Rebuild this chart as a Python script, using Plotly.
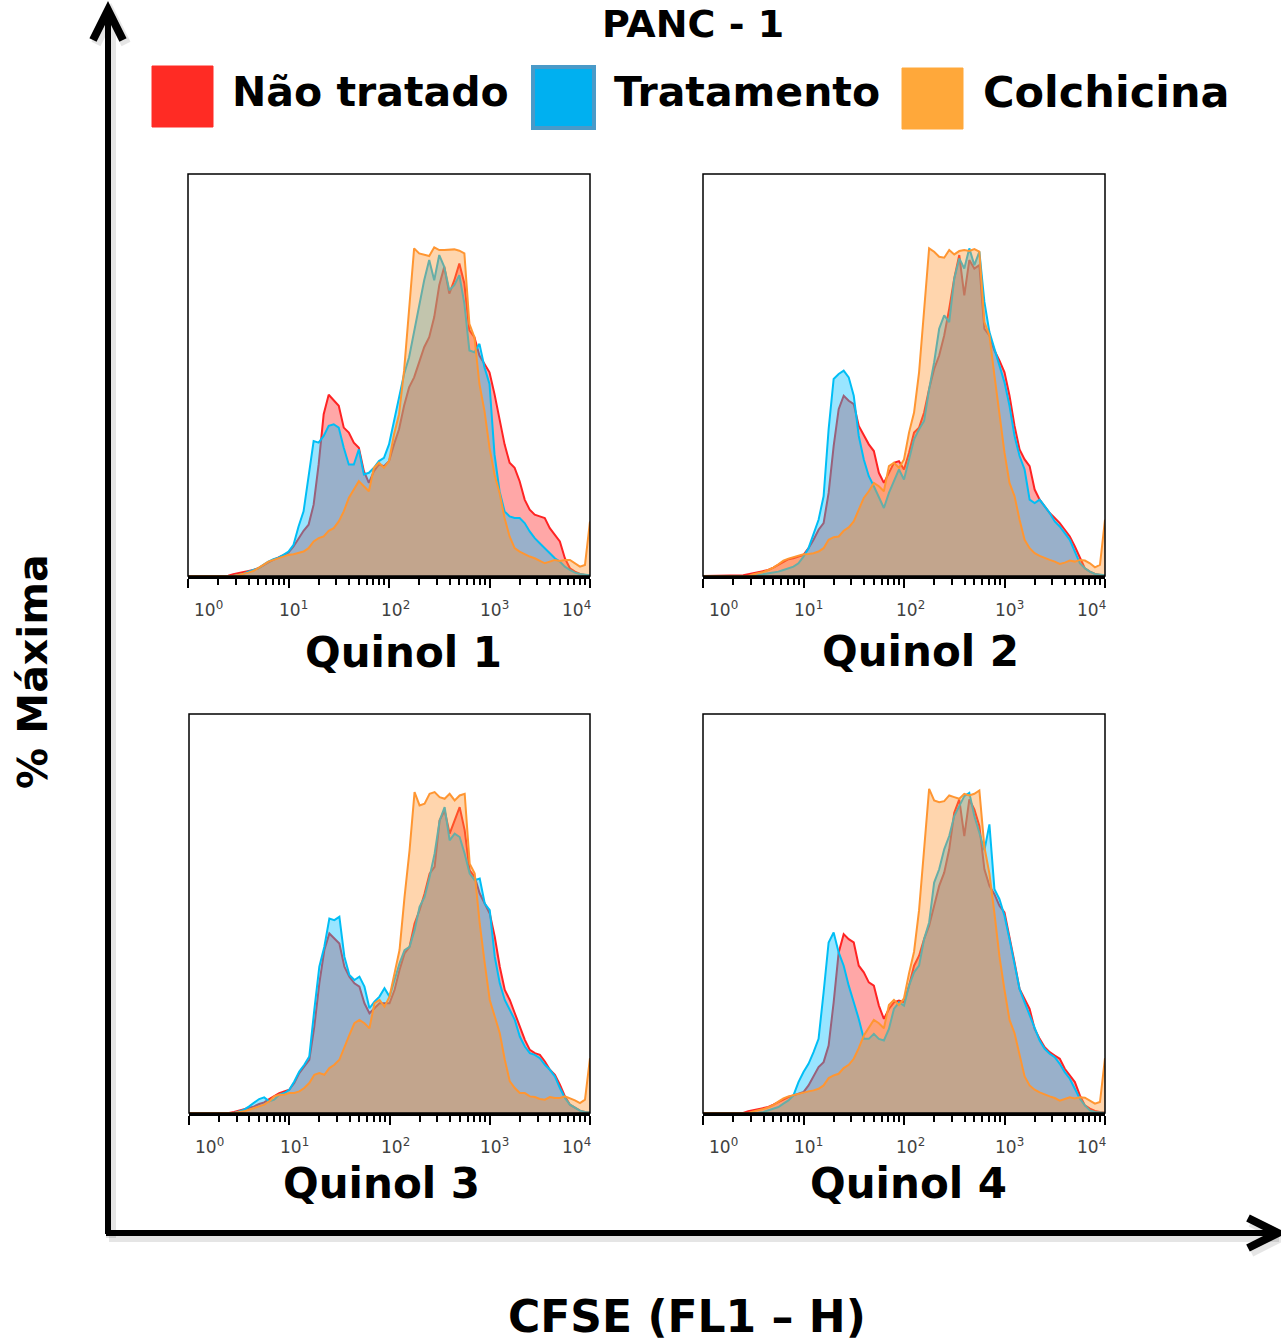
import plotly.graph_objects as go

# ---------------------------------------------------------------------------
# CFSE histograms (PANC-1): % of maximum vs log10 fluorescence channel
# ---------------------------------------------------------------------------
LOG_CHANNEL = [
    0.00, 0.05, 0.10, 0.15, 0.20, 0.25, 0.30, 0.35, 0.40, 0.45,
    0.50, 0.55, 0.60, 0.65, 0.70, 0.75, 0.80, 0.85, 0.90, 0.95,
    1.00, 1.05, 1.10, 1.15, 1.20, 1.25, 1.30, 1.35, 1.40, 1.45,
    1.50, 1.55, 1.60, 1.65, 1.70, 1.75, 1.80, 1.85, 1.90, 1.95,
    2.00, 2.05, 2.10, 2.15, 2.20, 2.25, 2.30, 2.35, 2.40, 2.45,
    2.50, 2.55, 2.60, 2.65, 2.70, 2.75, 2.80, 2.85, 2.90, 2.95,
    3.00, 3.05, 3.10, 3.15, 3.20, 3.25, 3.30, 3.35, 3.40, 3.45,
    3.50, 3.55, 3.60, 3.65, 3.70, 3.75, 3.80, 3.85, 3.90, 3.95,
    4.00,
]

PANELS = ["Quinol 1", "Quinol 2", "Quinol 3", "Quinol 4"]
SERIES = ["Não tratado", "Tratamento", "Colchicina"]

# Quinol 1
q1_nao_tratado = [
    0, 0, 0, 0, 0, 0, 0, 0, 0.1, 0.5,
    0.8, 1.0, 1.5, 1.8, 2.3, 3.3, 4.1, 4.8, 5.5, 6.1,
    7.0, 8.8, 11.3, 13.5, 15.3, 21.3, 33.3, 48.3, 54.1, 52.3,
    50.8, 44.3, 42.8, 39.8, 38.3, 31.3, 27.8, 31.3, 33.3, 32.8,
    34.3, 39.3, 43.8, 50.8, 56.3, 59.3, 63.8, 68.3, 71.3, 77.3,
    86.8, 92.3, 84.3, 88.3, 93.3, 87.3, 73.3, 71.3, 65.8, 63.3,
    60.8, 54.3, 46.3, 39.3, 33.8, 32.3, 28.3, 22.8, 19.8, 18.3,
    17.8, 17.3, 14.3, 12.3, 10.3, 5.3, 2.3, 1.3, 0.6, 0.3,
    0.2,
]
q1_tratamento = [
    0, 0, 0, 0, 0, 0, 0, 0, 0, 0,
    0.3, 0.6, 1.3, 1.8, 2.3, 3.3, 4.3, 5.0, 5.5, 6.3,
    7.3, 9.3, 14.8, 19.3, 29.3, 40.3, 39.8, 41.8, 44.8, 45.3,
    44.3, 38.3, 33.3, 33.3, 37.8, 30.3, 30.8, 32.3, 34.3, 35.3,
    39.3, 46.3, 52.3, 60.3, 65.3, 73.3, 81.3, 88.3, 94.3, 88.3,
    95.8, 92.3, 85.3, 86.8, 89.8, 81.3, 67.3, 66.8, 69.3, 62.3,
    57.3, 36.3, 25.3, 19.3, 17.8, 17.3, 17.3, 15.8, 13.3, 11.3,
    9.8, 8.3, 6.8, 5.3, 4.3, 2.8, 1.8, 1.0, 0.6, 0.3,
    0.2,
]
q1_colchicina = [
    0, 0, 0, 0, 0, 0, 0, 0, 0, 0,
    0.3, 0.6, 1.0, 1.5, 2.3, 3.3, 4.3, 4.8, 5.3, 5.8,
    6.3, 6.5, 6.8, 7.3, 8.3, 10.3, 11.3, 11.8, 13.5, 14.3,
    16.3, 19.3, 23.3, 25.8, 28.3, 26.8, 25.3, 32.3, 33.8, 32.3,
    34.3, 42.3, 48.3, 61.3, 79.0, 97.8, 96.3, 95.8, 95.5, 98.1,
    97.3, 97.3, 97.5, 97.5, 97.1, 96.3, 75.3, 71.3, 57.3, 49.3,
    38.3, 30.3, 24.8, 17.3, 11.8, 8.3, 7.3, 6.5, 5.8, 5.3,
    4.5, 3.8, 4.3, 4.8, 4.5, 4.8, 4.8, 3.8, 2.8, 3.3,
    16.3,
]

# Quinol 2
q2_nao_tratado = [
    0, 0, 0, 0, 0, 0, 0, 0, 0.2, 0.5,
    0.8, 1.1, 1.5, 1.8, 2.5, 3.3, 4.3, 5.0, 5.3, 5.8,
    6.3, 8.3, 10.8, 13.8, 15.8, 24.8, 38.8, 49.8, 53.8, 52.3,
    51.3, 44.8, 41.8, 39.3, 37.3, 30.8, 27.8, 30.8, 33.8, 34.3,
    31.8, 36.8, 42.8, 44.3, 48.8, 55.8, 61.8, 65.8, 71.8, 79.8,
    88.8, 95.8, 83.8, 94.3, 91.8, 92.8, 73.8, 71.8, 67.3, 64.3,
    60.8, 53.8, 44.8, 37.8, 34.8, 32.8, 25.8, 22.8, 20.8, 18.8,
    17.3, 15.8, 13.8, 11.8, 8.8, 5.3, 2.3, 1.3, 0.6, 0.3,
    0.2,
]
q2_tratamento = [
    0, 0, 0, 0, 0, 0, 0, 0, 0, 0,
    0, 0.3, 0.5, 0.8, 1.0, 1.3, 1.8, 2.3, 2.8, 3.8,
    5.8, 8.3, 12.8, 16.8, 23.8, 43.8, 58.8, 60.3, 61.3, 59.3,
    53.8, 41.8, 34.8, 29.8, 26.8, 23.3, 20.3, 24.8, 28.3, 31.8,
    28.8, 34.8, 40.8, 43.8, 46.3, 55.8, 63.8, 73.8, 77.8, 75.8,
    88.8, 94.8, 91.8, 97.8, 92.8, 96.8, 81.8, 72.8, 67.8, 62.8,
    57.8, 50.8, 41.8, 35.8, 31.8, 22.8, 21.8, 22.8, 20.8, 18.8,
    16.3, 14.8, 12.8, 10.8, 7.3, 3.8, 2.3, 1.3, 0.6, 0.3,
    0.2,
]
q2_colchicina = [
    0, 0, 0, 0, 0, 0, 0, 0, 0, 0,
    0.5, 0.8, 1.2, 1.8, 2.5, 3.5, 4.6, 5.2, 5.6, 6.0,
    6.5, 6.6, 6.8, 7.3, 8.3, 10.8, 11.6, 11.8, 13.5, 14.5,
    16.3, 19.8, 23.3, 25.3, 27.8, 26.8, 25.3, 32.8, 33.8, 32.3,
    34.8, 42.8, 48.8, 60.8, 78.8, 97.8, 96.8, 95.3, 95.0, 97.3,
    96.0, 97.0, 97.3, 97.0, 97.6, 96.8, 75.8, 71.8, 59.8, 47.8,
    36.8, 27.8, 23.8, 16.8, 10.8, 8.3, 6.8, 6.0, 5.3, 4.8,
    4.3, 3.6, 4.0, 4.6, 4.3, 4.8, 4.6, 3.8, 2.6, 3.3,
    16.8,
]

# Quinol 3
q3_nao_tratado = [
    0, 0, 0, 0, 0, 0, 0, 0, 0, 0.3,
    0.7, 1.0, 1.5, 2.0, 2.7, 3.2, 4.2, 5.0, 6.0, 6.5,
    7.0, 9.0, 12.0, 14.0, 16.0, 26.0, 39.0, 49.0, 54.0, 52.5,
    51.0, 44.0, 41.0, 39.0, 38.0, 33.0, 30.0, 31.5, 33.0, 33.0,
    33.0, 37.0, 43.0, 48.0, 50.0, 57.0, 61.0, 66.0, 72.0, 74.0,
    88.0, 91.0, 84.0, 88.0, 92.0, 85.0, 73.0, 71.0, 66.0, 63.0,
    60.0, 53.0, 44.0, 37.0, 34.0, 30.0, 26.0, 22.0, 19.0, 18.0,
    17.5, 15.5, 13.0, 11.5, 8.5, 5.0, 2.5, 1.5, 0.7, 0.3,
    0.2,
]
q3_tratamento = [
    0, 0, 0, 0, 0, 0, 0, 0, 0, 0,
    0.5, 1.0, 2.0, 3.0, 4.2, 4.7, 3.5, 4.0, 5.5, 6.0,
    7.0, 9.5, 12.5, 14.5, 17.0, 31.0, 44.0, 50.0, 58.5, 58.0,
    59.0, 47.0, 41.5, 40.0, 41.0, 38.0, 31.5, 33.5, 35.0, 37.5,
    35.0, 40.0, 45.0, 49.0, 50.0, 55.0, 62.0, 65.0, 71.0, 78.0,
    88.0, 92.0, 82.0, 84.0, 83.0, 78.0, 72.0, 70.0, 70.5, 63.0,
    61.0, 47.0, 39.0, 34.0, 31.0, 28.0, 23.0, 20.0, 18.0, 17.5,
    16.5, 14.5, 13.0, 11.0, 7.5, 4.5, 2.5, 1.5, 0.7, 0.3,
    0.2,
]
q3_colchicina = [
    0, 0, 0, 0, 0, 0, 0, 0, 0, 0,
    0.3, 0.5, 1.0, 1.5, 2.0, 2.5, 3.5, 5.0, 5.5, 5.5,
    6.0, 6.0, 6.5, 7.5, 9.0, 11.5, 12.0, 11.5, 13.5, 14.5,
    16.0, 20.0, 23.5, 27.0, 28.0, 27.0, 25.5, 33.0, 34.0, 32.0,
    35.0, 42.0, 49.0, 65.0, 79.0, 96.5, 92.5, 93.0, 96.0, 96.5,
    95.0, 94.5, 96.0, 94.0, 95.5, 96.0, 75.0, 72.0, 57.0, 45.0,
    34.0, 29.0, 24.0, 16.0, 9.5, 7.5, 6.0, 6.0, 5.0, 4.8,
    4.2, 4.0, 4.8, 4.5, 4.5, 5.0, 4.5, 3.8, 3.0, 4.0,
    16.5,
]

# Quinol 4
q4_nao_tratado = [
    0, 0, 0, 0, 0, 0, 0, 0, 0, 0.5,
    0.8, 1.0, 1.5, 1.8, 2.5, 3.3, 4.1, 4.8, 5.3, 5.8,
    6.3, 8.3, 11.3, 13.8, 15.3, 20.3, 33.3, 48.3, 53.8, 52.3,
    51.3, 44.3, 42.3, 39.3, 38.3, 32.3, 28.3, 31.3, 33.3, 33.8,
    33.3, 38.3, 44.3, 47.3, 52.3, 56.3, 62.3, 68.3, 72.3, 79.3,
    90.3, 94.3, 83.3, 94.3, 91.3, 86.3, 73.3, 68.3, 65.8, 62.3,
    60.3, 53.3, 45.3, 37.3, 34.3, 31.3, 25.3, 22.3, 19.8, 18.3,
    17.3, 16.3, 13.3, 11.3, 9.3, 5.3, 2.3, 1.3, 0.6, 0.3,
    0.2,
]
q4_tratamento = [
    0, 0, 0, 0, 0, 0, 0, 0, 0, 0,
    0, 0.1, 0.3, 0.8, 1.3, 1.8, 2.8, 3.8, 5.3, 9.3,
    12.3, 14.8, 18.3, 22.3, 36.3, 51.3, 54.3, 48.3, 44.3, 38.3,
    33.3, 28.3, 22.3, 22.3, 23.8, 22.3, 21.8, 25.3, 31.3, 33.3,
    32.3, 38.3, 42.3, 44.3, 52.3, 57.3, 69.3, 73.3, 79.3, 83.3,
    89.3, 92.3, 95.3, 96.3, 89.3, 84.3, 79.0, 86.8, 67.3, 64.3,
    59.3, 52.3, 44.3, 37.3, 33.3, 29.3, 25.3, 21.8, 19.3, 17.8,
    16.8, 14.8, 12.3, 10.3, 7.3, 4.3, 2.3, 0.8, 0.3, 0.2,
    0.1,
]
q4_colchicina = [
    0, 0, 0, 0, 0, 0, 0, 0, 0, 0,
    0.5, 0.8, 1.2, 1.7, 2.4, 3.4, 4.4, 5.0, 5.4, 5.9,
    6.3, 6.5, 6.8, 7.3, 8.3, 10.5, 11.3, 11.8, 13.5, 14.5,
    16.3, 19.5, 23.3, 25.5, 28.0, 27.0, 25.5, 32.5, 34.0, 32.5,
    34.5, 42.0, 48.5, 61.0, 79.0, 97.5, 94.0, 93.5, 93.8, 95.5,
    95.0, 94.5, 96.0, 95.5, 96.0, 97.0, 80.0, 72.0, 60.0, 47.0,
    37.0, 28.0, 24.0, 17.0, 11.0, 8.3, 7.0, 6.2, 5.5, 5.0,
    4.5, 3.7, 4.2, 4.7, 4.4, 4.7, 4.6, 3.8, 2.8, 3.3,
    16.5,
]

PANEL_DATA = [
    [q1_nao_tratado, q1_tratamento, q1_colchicina],
    [q2_nao_tratado, q2_tratamento, q2_colchicina],
    [q3_nao_tratado, q3_tratamento, q3_colchicina],
    [q4_nao_tratado, q4_tratamento, q4_colchicina],
]

MAJOR_TICKS = [1, 10, 100, 1000, 10000]
MINOR_TICKS = [m * d for d in (1, 10, 100, 1000) for m in range(2, 10)]
TICK_TEXT = ["10<sup>0</sup>", "10<sup>1</sup>", "10<sup>2</sup>",
             "10<sup>3</sup>", "10<sup>4</sup>"]

# ---------------------------------------------------------------------------
# styling
# ---------------------------------------------------------------------------
W, H = 1281, 1344
LINE_COLORS = ["rgb(255,35,35)", "rgb(0,190,245)", "rgb(255,150,50)"]
FILL_COLORS = ["rgba(255,35,35,0.40)", "rgba(0,190,255,0.40)",
               "rgba(255,150,50,0.40)"]
LEGEND_FILL = ["#ff2b24", "#00b0f0", "#ffa83a"]
LEGEND_EDGE = ["#ff2b24", "#4a9ac8", "#ffa83a"]
FONT = "DejaVu Sans, Verdana, sans-serif"

# plot boxes in pixels: (left, top, right, bottom)
BOXES = [(188, 174, 590, 576), (703, 174, 1105, 576),
         (189, 714, 590, 1113), (703, 714, 1105, 1113)]
TITLE_POS = [(403, 652), (920, 651), (381, 1183), (908, 1183)]
TICK_LABEL_X = [0.2, 1.05, 2.06, 3.05, 3.87]


def px(x):
    return x / W


def py(y):
    return 1 - y / H


x_vals = [10 ** v for v in LOG_CHANNEL]

fig = go.Figure()
annotations = []
shapes = []

for i, (series_list, box) in enumerate(zip(PANEL_DATA, BOXES), start=1):
    suffix = "" if i == 1 else str(i)
    xa, ya = f"x{suffix}", f"y{suffix}"
    for s, yv in enumerate(series_list):
        fig.add_trace(go.Scatter(
            x=x_vals, y=yv, mode="lines", name=SERIES[s],
            fill="tozeroy", fillcolor=FILL_COLORS[s],
            line=dict(color=LINE_COLORS[s], width=2),
            xaxis=xa, yaxis=ya, showlegend=False, hoverinfo="skip",
        ))
    left, top, right, bottom = box
    fig.layout[f"xaxis{suffix}"] = dict(
        domain=[px(left), px(right)], anchor=ya, type="log", range=[0, 4],
        showgrid=False, zeroline=False, showline=True, linecolor="black",
        linewidth=2.5, ticks="outside", tickvals=MAJOR_TICKS, ticklen=9,
        tickwidth=2.4, tickcolor="black", showticklabels=False,
        minor=dict(tickmode="array", tickvals=MINOR_TICKS, ticks="outside",
                   ticklen=6, tickwidth=1.6, tickcolor="black",
                   showgrid=False),
    )
    fig.layout[f"yaxis{suffix}"] = dict(
        domain=[py(bottom), py(top)], anchor=xa, range=[0, 120],
        visible=False, showgrid=False, zeroline=False,
    )
    # thin frame around each histogram
    shapes.append(dict(type="rect", xref=f"{xa} domain", yref=f"{ya} domain",
                       x0=0, x1=1, y0=0, y1=1,
                       line=dict(color="black", width=1.5), layer="above"))
    for txt, tx in zip(TICK_TEXT, TICK_LABEL_X):
        annotations.append(dict(
            text=txt, x=tx, y=0, xref=xa, yref=f"{ya} domain",
            yshift=-33, showarrow=False, xanchor="center", yanchor="middle",
            font=dict(family=FONT, size=17, color="#404040"),
        ))
    tx, ty = TITLE_POS[i - 1]
    annotations.append(dict(
        text=f"<b>{PANELS[i - 1]}</b>", x=px(tx), y=py(ty), xref="paper",
        yref="paper", showarrow=False, xanchor="center", yanchor="middle",
        font=dict(family=FONT, size=42, color="black"),
    ))

# legend: coloured squares with labels
LEGEND_SQ = [(152, 66), (533, 67), (902, 68)]
LEGEND_TXT_X = [230, 612, 981]
LEGEND_SIZE = [41, 41, 43]
for s in range(3):
    sx, sy = LEGEND_SQ[s]
    shapes.append(dict(type="rect", xref="paper", yref="paper",
                       x0=px(sx), x1=px(sx + 61), y0=py(sy + 61), y1=py(sy),
                       fillcolor=LEGEND_FILL[s],
                       line=dict(color=LEGEND_EDGE[s], width=4 if s == 1 else 1)))
    annotations.append(dict(
        text=f"<b>{SERIES[s]}</b>", x=px(LEGEND_TXT_X[s]), y=py(92),
        xref="paper", yref="paper", showarrow=False, xanchor="left",
        yanchor="middle",
        font=dict(family=FONT, size=LEGEND_SIZE[s], color="black"),
    ))

# overall title and axis captions
annotations.append(dict(
    text="<b>PANC - 1</b>", x=px(693), y=py(0), xref="paper", yref="paper",
    showarrow=False, xanchor="center", yanchor="top",
    font=dict(family=FONT, size=38, color="black"),
))
annotations.append(dict(
    text="<b>% Máxima</b>", x=px(33), y=py(672), xref="paper", yref="paper",
    showarrow=False, textangle=-90, xanchor="center", yanchor="middle",
    font=dict(family=FONT, size=41, color="black"),
))
annotations.append(dict(
    text="<b>CFSE (FL1 – H)</b>", x=px(687), y=py(1316), xref="paper",
    yref="paper", showarrow=False, xanchor="center", yanchor="middle",
    font=dict(family=FONT, size=44, color="black"),
))


def path(points):
    return "M " + " L ".join(f"{px(x)},{py(y)}" for x, y in points)


# big axis arrows with a soft drop shadow
ARROWS = [
    [(108, 1234), (108, 12)],
    [(106, 1233), (1276, 1233)],
]
HEADS = [
    [(93, 40), (108, 10), (123, 40)],
    [(1248, 1218), (1278, 1233), (1248, 1248)],
]
for pts in ARROWS + HEADS:
    shadow = [(x + 3, y + 4) for x, y in pts]
    shapes.append(dict(type="path", xref="paper", yref="paper",
                       path=path(shadow),
                       line=dict(color="rgba(0,0,0,0.10)", width=10)))
for pts in ARROWS:
    shapes.append(dict(type="path", xref="paper", yref="paper",
                       path=path(pts), line=dict(color="black", width=6)))
for pts in HEADS:
    shapes.append(dict(type="path", xref="paper", yref="paper",
                       path=path(pts), line=dict(color="black", width=8)))

fig.update_layout(
    width=W, height=H, margin=dict(l=0, r=0, t=0, b=0),
    paper_bgcolor="white", plot_bgcolor="rgba(0,0,0,0)",
    showlegend=False, annotations=annotations, shapes=shapes,
)

fig.write_html("out.html")
